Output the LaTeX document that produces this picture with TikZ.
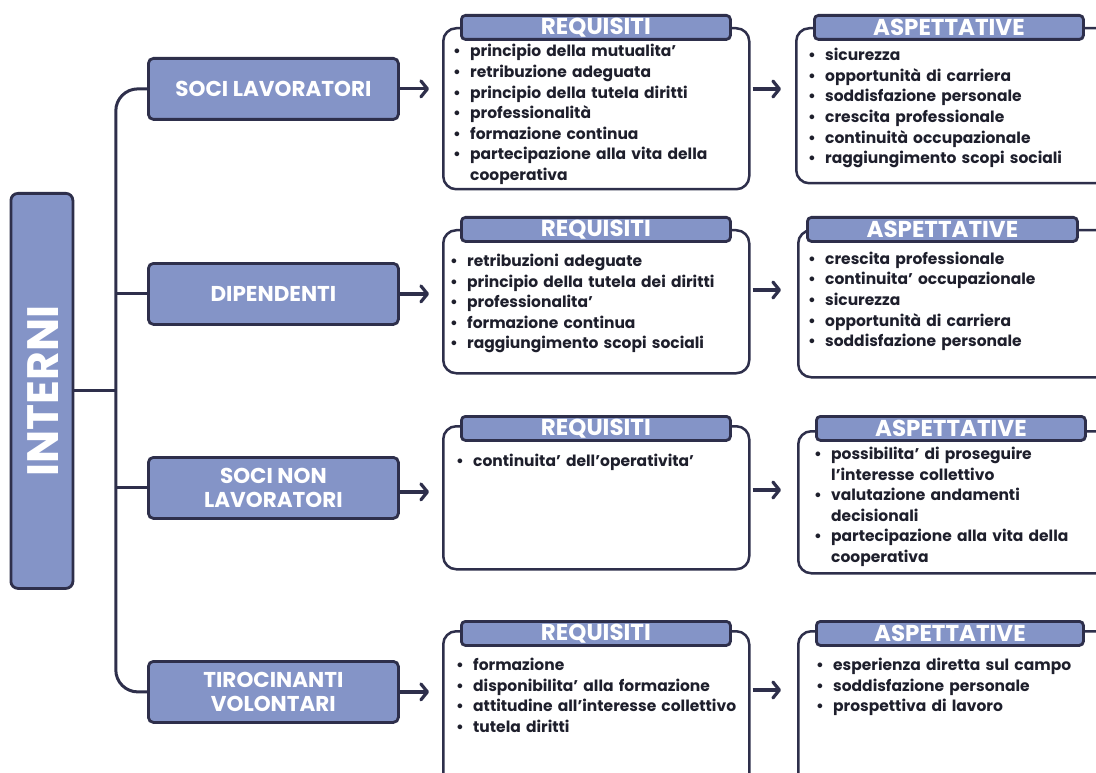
\documentclass[tikz,border=0pt]{standalone}
\usepackage{fontspec}
\setmainfont{Poppins}
\usetikzlibrary{arrows.meta,calc}
\definecolor{fillb}{HTML}{8494C7}
\definecolor{dark}{HTML}{2E2F4B}
\definecolor{txt}{HTML}{1E1F2C}
\newcommand\bitem[1]{\par\hangindent=17pt\hangafter=1\noindent\makebox[17pt][l]{\hspace{0pt}\textbullet}#1\par}
\tikzset{
  bluebox/.style={draw=dark, fill=fillb, line width=2.8pt, rounded corners=5pt, text=white, font=\bfseries\fontsize{21.5}{24}\selectfont, align=center, inner sep=0pt},
  mainbox/.style={draw=dark, fill=white, line width=2.5pt, rounded corners=13pt, inner sep=0pt, anchor=north west},
  hdr/.style={draw=dark, fill=fillb, line width=2.8pt, rounded corners=4pt, text=white, font=\bfseries\fontsize{23}{24}\selectfont, inner sep=0pt, anchor=north west, minimum height=24pt},
  lst/.style={anchor=north west, inner sep=0pt, text width=300pt, text=txt, font=\bfseries\fontsize{15.5}{20.6}\selectfont},
  conn/.style={draw=dark, line width=3pt},
  arr/.style={draw=dark, line width=3.2pt, -{Straight Barb[length=6.5pt,width=16pt,round]}}
}
\begin{document}
\begin{tikzpicture}[x=1pt,y=-1pt]
\useasboundingbox (0,0) rectangle (1096,773);
\clip (0,0) rectangle (1096,773);
% root
\node[bluebox, minimum width=62pt, minimum height=395pt, anchor=north west, rounded corners=7pt] (int) at (9.5,192) {};
\node[text=white, font=\bfseries\fontsize{44}{44}\selectfont, rotate=90, inner sep=0pt] (intlbl) at ([xshift=1pt]int.center) {INTERNI};
% branches
\node[bluebox, minimum width=250pt, minimum height=61pt, anchor=north west] (sl) at (147,57) {SOCI LAVORATORI};
\node[bluebox, minimum width=250pt, minimum height=61pt, anchor=north west] (dp) at (147,262) {DIPENDENTI};
\node[bluebox, minimum width=250pt, minimum height=61pt, anchor=north west] (snl) at (147,456) {SOCI NON\\LAVORATORI};
\node[bluebox, minimum width=250pt, minimum height=61pt, anchor=north west] (tv) at (147,660) {TIROCINANTI\\VOLONTARI};
\coordinate (tx) at ($(int.east)+(41.5,0)$);
\draw[conn, rounded corners=22pt] (sl.west) -| (tx) |- (tv.west);
\draw[conn] (int.east) -- (tx);
\draw[conn] (dp.west) -- (dp.west -| tx);
\draw[conn] (snl.west) -- (snl.west -| tx);
% main boxes
\node[mainbox, minimum width=306pt, minimum height=161pt] (rq1) at (442,27) {};
\node[mainbox, minimum width=320pt, minimum height=155pt] (as1) at (795,27) {};
\node[mainbox, minimum width=306pt, minimum height=143pt] (rq2) at (442,229) {};
\node[mainbox, minimum width=320pt, minimum height=147pt] (as2) at (797,229) {};
\node[mainbox, minimum width=306pt, minimum height=143pt] (rq3) at (442,425) {};
\node[mainbox, minimum width=320pt, minimum height=142pt] (as3) at (797,430) {};
\node[mainbox, minimum width=306pt, minimum height=170pt] (rq4) at (442,630) {};
\node[mainbox, minimum width=320pt, minimum height=170pt] (as4) at (797,630) {};
% headers
\node[hdr, minimum width=269pt] (h1) at (460,14) {REQUISITI};
\node[hdr, minimum width=269pt] (h2) at (813,14) {ASPETTATIVE};
\node[hdr, minimum width=269pt] (h3) at (460,216) {REQUISITI};
\node[hdr, minimum width=270pt] (h4) at (806,216) {ASPETTATIVE};
\node[hdr, minimum width=269pt] (h5) at (460,415) {REQUISITI};
\node[hdr, minimum width=269pt] (h6) at (815,415) {ASPETTATIVE};
\node[hdr, minimum width=269pt] (h7) at (460,620) {REQUISITI};
\node[hdr, minimum width=267pt] (h8) at (815,620) {ASPETTATIVE};
% lists
\node[lst] (l1) at (453,36.2) {\raggedright\bitem{principio della mutualita’}\bitem{retribuzione adeguata}\bitem{principio della tutela diritti}\bitem{professionalità}\bitem{formazione continua}\bitem{partecipazione alla vita della\newline cooperativa}};
\node[lst] (l2) at (808,40) {\raggedright\bitem{sicurezza}\bitem{opportunità di carriera}\bitem{soddisfazione personale}\bitem{crescita professionale}\bitem{continuità occupazionale}\bitem{raggiungimento scopi sociali}};
\node[lst] (l3) at (450,245.6) {\raggedright\bitem{retribuzioni adeguate}\bitem{principio della tutela dei diritti}\bitem{professionalita’}\bitem{formazione continua}\bitem{raggiungimento scopi sociali}};
\node[lst] (l4) at (808,243.6) {\raggedright\bitem{crescita professionale}\bitem{continuita’ occupazionale}\bitem{sicurezza}\bitem{opportunità di carriera}\bitem{soddisfazione personale}};
\node[lst] (l5) at (456,445.8) {\raggedright\bitem{continuita’ dell’operativita’}};
\node[lst] (l6) at (814,438.6) {\raggedright\bitem{possibilita’ di proseguire\newline l’interesse collettivo}\bitem{valutazione andamenti\newline decisionali}\bitem{partecipazione alla vita della\newline cooperativa}};
\node[lst] (l7) at (456,649.6) {\raggedright\bitem{formazione}\bitem{disponibilita’ alla formazione}\bitem{attitudine all’interesse collettivo}\bitem{tutela diritti}};
\node[lst] (l8) at (816,649.6) {\raggedright\bitem{esperienza diretta sul campo}\bitem{soddisfazione personale}\bitem{prospettiva di lavoro}};
% arrows
\draw[arr, shorten >=13pt] (sl.east) -- (sl.east -| rq1.west);
\draw[arr, shorten >=13pt] (dp.east) -- (dp.east -| rq2.west);
\draw[arr, shorten >=13pt] ([yshift=-4pt]snl.east) -- ([yshift=-4pt]snl.east -| rq3.west);
\draw[arr, shorten >=13pt] (tv.east) -- (tv.east -| rq4.west);
\coordinate (r1) at (0,89);
\coordinate (r2) at (0,290);
\coordinate (r3) at (0,490);
\coordinate (r4) at (0,690);
\draw[arr, shorten <=2pt, shorten >=14pt] (r1 -| rq1.east) -- (r1 -| as1.west);
\draw[arr, shorten <=2pt, shorten >=16pt] (r2 -| rq2.east) -- (r2 -| as2.west);
\draw[arr, shorten <=2pt, shorten >=16pt] (r3 -| rq3.east) -- (r3 -| as3.west);
\draw[arr, shorten <=2pt, shorten >=16pt] (r4 -| rq4.east) -- (r4 -| as4.west);
\end{tikzpicture}
\end{document}
